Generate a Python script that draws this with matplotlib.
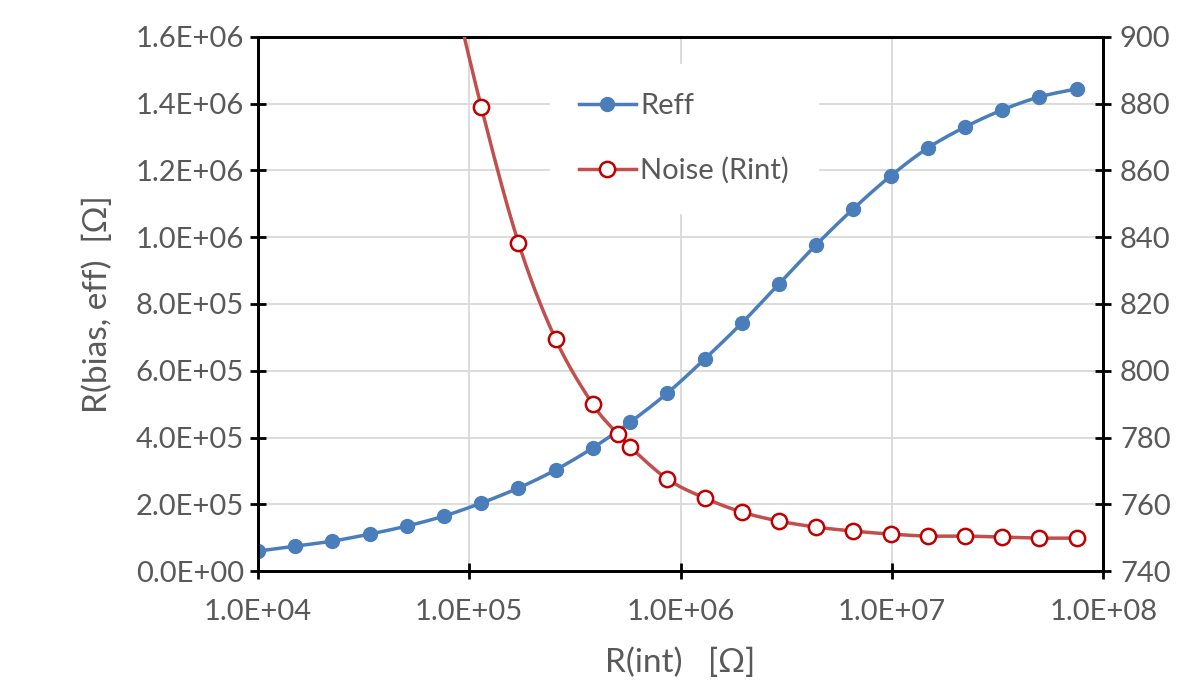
import numpy as np
import matplotlib
matplotlib.use("Agg")
import matplotlib.pyplot as plt
from matplotlib.ticker import FuncFormatter, FixedLocator, NullLocator

# Reff vs R(int), left axis
r_int_eff = [1.0e4, 1.5e4, 2.25e4, 3.38e4, 5.06e4, 7.59e4, 1.14e5, 1.71e5,
             2.56e5, 3.84e5, 5.77e5, 8.65e5, 1.30e6, 1.95e6, 2.92e6, 4.38e6,
             6.57e6, 9.85e6, 1.48e7, 2.22e7, 3.33e7, 4.99e7, 7.48e7]
reff = [6.0e4, 7.5e4, 9.0e4, 1.11e5, 1.35e5, 1.65e5, 2.04e5, 2.49e5,
        3.03e5, 3.69e5, 4.46e5, 5.33e5, 6.35e5, 7.43e5, 8.60e5, 9.77e5,
        1.085e6, 1.183e6, 1.267e6, 1.330e6, 1.381e6, 1.420e6, 1.444e6]

# Noise vs R(int), right axis (first point is above the axis range)
r_int_noise = [7.59e4, 1.14e5, 1.71e5, 2.56e5, 3.84e5, 5.06e5, 5.77e5, 8.65e5,
               1.30e6, 1.95e6, 2.92e6, 4.38e6, 6.57e6, 9.85e6, 1.48e7,
               2.22e7, 3.33e7, 4.99e7, 7.48e7]
noise = [926, 879.0, 838.3, 809.5, 790.0, 781.0, 777.2, 767.6,
         761.9, 757.7, 755.0, 753.2, 752.0, 751.1, 750.5,
         750.5, 750.2, 749.9, 749.9]

left_ticks = [0, 2e5, 4e5, 6e5, 8e5, 1.0e6, 1.2e6, 1.4e6, 1.6e6]
right_ticks = [740, 760, 780, 800, 820, 840, 860, 880, 900]
x_ticks = [1e4, 1e5, 1e6, 1e7, 1e8]

BLUE = "#4A7EBB"
RED_LINE = "#C0504D"
RED_EDGE = "#C00000"
GRAY = "#595959"
FS = 21


def smooth(x, y, ylim, n=24):
    # Catmull-Rom (Excel-style smoothing) computed in screen-like space
    px_per_decade = 211.0
    px_y = 534.0
    lx = np.log10(np.asarray(x, float)) * px_per_decade
    yy = (np.asarray(y, float) - ylim[0]) / (ylim[1] - ylim[0]) * px_y
    P = np.column_stack([lx, yy])
    P = np.vstack([P[0], P, P[-1]])
    out = []
    t = np.linspace(0, 1, n, endpoint=False)[:, None]
    for i in range(1, len(P) - 2):
        p0, p1, p2, p3 = P[i - 1], P[i], P[i + 1], P[i + 2]
        c1 = p1 + (p2 - p0) / 6.0
        c2 = p2 - (p3 - p1) / 6.0
        seg = ((1 - t) ** 3 * p1 + 3 * (1 - t) ** 2 * t * c1
               + 3 * (1 - t) * t ** 2 * c2 + t ** 3 * p2)
        out.append(seg)
    out.append(P[-2][None, :])
    out = np.vstack(out)
    xs = 10 ** (out[:, 0] / px_per_decade)
    ys = out[:, 1] / px_y * (ylim[1] - ylim[0]) + ylim[0]
    return xs, ys


plt.rcParams['font.family'] = ['Lato', 'DejaVu Sans']
plt.rcParams['font.size'] = FS

fig = plt.figure(figsize=(11.94, 6.94), dpi=100)
ax = fig.add_axes([0.216, 0.177, 0.708, 0.770])
ax2 = ax.twinx()

ax.set_xscale('log')
ax.set_xlim(1e4, 1e8)
ax.set_ylim(0, 1.6e6)
ax2.set_ylim(740, 900)

ax.xaxis.set_major_locator(FixedLocator(x_ticks))
ax.xaxis.set_minor_locator(NullLocator())
ax.yaxis.set_major_locator(FixedLocator(left_ticks))
ax2.yaxis.set_major_locator(FixedLocator(right_ticks))

fmt = FuncFormatter(lambda v, p: f"{v:.1E}")
ax.xaxis.set_major_formatter(fmt)
ax.yaxis.set_major_formatter(fmt)
ax2.yaxis.set_major_formatter(FuncFormatter(lambda v, p: f"{v:.0f}"))

ax.grid(True, color="#D9D9D9", linewidth=1.3)
ax.set_axisbelow(True)

for a in (ax, ax2):
    for s in a.spines.values():
        s.set_linewidth(2.0)
        s.set_color("black")
    a.tick_params(direction='inout', length=12, width=2.0, colors="black",
                  labelcolor=GRAY, labelsize=FS)
ax.tick_params(axis='x', pad=14)
ax.tick_params(axis='y', pad=4)
ax2.tick_params(axis='y', pad=6)

# Reff
sx, sy = smooth(r_int_eff, reff, (0, 1.6e6))
ax.plot(sx, sy, color=BLUE, lw=2.5, zorder=3)
ax.plot(r_int_eff, reff, 'o', color=BLUE, ms=10, zorder=4)

# Noise
nx, ny = smooth(r_int_noise, noise, (740, 900))
ax2.plot(nx, ny, color=RED_LINE, lw=2.5, zorder=3)
ax2.plot(r_int_noise, noise, 'o', mfc='white', mec=RED_EDGE, mew=1.8, ms=11, zorder=4)

h1, = ax.plot([], [], '-o', color=BLUE, lw=2.5, ms=10)
h2, = ax.plot([], [], '-o', color=RED_LINE, mfc='white', mec=RED_EDGE, mew=1.8, lw=2.5, ms=11)
leg = ax2.legend([h1, h2], ["Reff", "Noise (Rint)"], loc='upper left',
                 bbox_to_anchor=(0.345, 0.949), frameon=True, fancybox=False,
                 edgecolor='white', facecolor='white', framealpha=1.0,
                 handlelength=1.95, handletextpad=0.15, labelspacing=1.3,
                 borderpad=1.0, borderaxespad=0.0, fontsize=FS)
for t in leg.get_texts():
    t.set_color(GRAY)
leg.set_zorder(10)

ax.set_xlabel("R(int)   [Ω]", color=GRAY, fontsize=24, labelpad=16)
ax.set_ylabel("R(bias, eff)  [Ω]", color=GRAY, fontsize=24, labelpad=16)

fig.savefig("out.png", dpi=100, facecolor="white")
